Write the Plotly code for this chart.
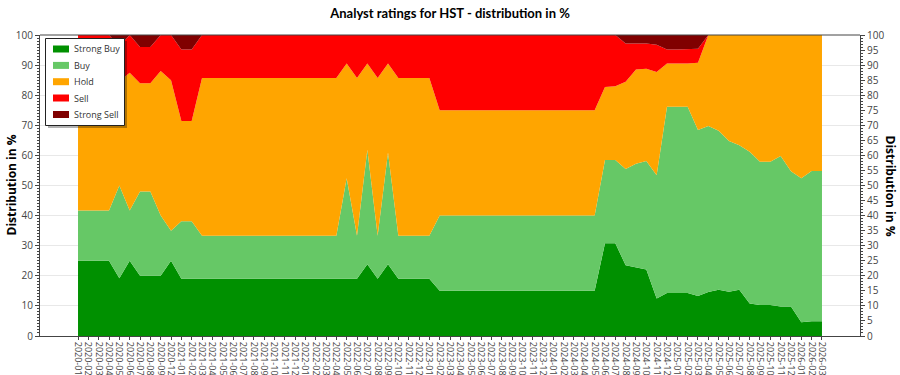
import plotly.graph_objects as go

months = (
    [f"2020-{m:02d}" for m in [1, 2, 3, 4, 5, 6, 7, 8, 9, 12]]
    + [f"{y}-{m:02d}" for y in [2021, 2022, 2023, 2024, 2025] for m in range(1, 13)]
    + ["2026-01", "2026-02", "2026-03"]
)

strong_buy = [25, 25, 25, 25, 19.2, 25, 20, 20, 20, 25,
              19, 19, 19, 19, 19, 19, 19, 19, 19, 19,
              19, 19, 19, 19, 19, 19, 19, 19, 23.8, 19,
              23.8, 19, 19, 19, 19, 15, 15, 15, 15, 15,
              15, 15, 15, 15, 15, 15, 15, 15, 15, 15,
              15, 30.8, 30.8, 23.5, 22.8, 22.1, 12.5, 14.3, 14.3, 14.3,
              13.3, 14.6, 15.4, 14.7, 15.4, 10.8, 10.3, 10.3, 9.8, 9.8,
              4.6, 4.9, 4.9]
buy = [16.7, 16.7, 16.7, 16.7, 30.8, 16.7, 28, 28, 20, 10,
       19.1, 19.1, 14.3, 14.3, 14.3, 14.3, 14.3, 14.3, 14.3, 14.3,
       14.3, 14.3, 14.3, 14.3, 14.3, 14.3, 33.4, 14.3, 38.1, 14.3,
       37.2, 14.3, 14.3, 14.3, 14.3, 25, 25, 25, 25, 25,
       25, 25, 25, 25, 25, 25, 25, 25, 25, 25,
       25, 27.7, 27.7, 32, 34.4, 36, 40.9, 61.9, 61.9, 61.9,
       55.1, 55.2, 52.8, 50.1, 48, 50.4, 47.6, 47.6, 50, 44.9,
       47.8, 49.9, 49.9]
hold = [41.6, 41.6, 41.6, 41.6, 34.6, 45.8, 36, 36, 48, 50,
        33.3, 33.3, 52.4, 52.4, 52.4, 52.4, 52.4, 52.4, 52.4, 52.4,
        52.4, 52.4, 52.4, 52.4, 52.4, 52.4, 38.1, 52.4, 28.6, 52.4,
        29.5, 52.4, 52.4, 52.4, 52.4, 35, 35, 35, 35, 35,
        35, 35, 35, 35, 35, 35, 35, 35, 35, 35,
        35, 24.2, 24.5, 29, 31.3, 30.7, 34.3, 14.3, 14.3, 14.3,
        22.4, 30.2, 31.8, 35.2, 36.6, 38.8, 42.1, 42.1, 40.2, 45.3,
        47.6, 45.2, 45.2]
sell = [16.7, 16.7, 16.7, 16.7, 11.6, 12.5, 12, 12, 12, 15,
        23.8, 23.8, 14.3, 14.3, 14.3, 14.3, 14.3, 14.3, 14.3, 14.3,
        14.3, 14.3, 14.3, 14.3, 14.3, 14.3, 9.5, 14.3, 9.5, 14.3,
        9.5, 14.3, 14.3, 14.3, 14.3, 25, 25, 25, 25, 25,
        25, 25, 25, 25, 25, 25, 25, 25, 25, 25,
        25, 17.3, 17, 12.7, 8.7, 8.4, 9.1, 4.7, 4.7, 4.7,
        4.6, 0, 0, 0, 0, 0, 0, 0, 0, 0,
        0, 0, 0]
strong_sell = [0, 0, 0, 0, 3.8, 0, 4, 4, 0, 0,
               4.8, 4.8, 0, 0, 0, 0, 0, 0, 0, 0,
               0, 0, 0, 0, 0, 0, 0, 0, 0, 0,
               0, 0, 0, 0, 0, 0, 0, 0, 0, 0,
               0, 0, 0, 0, 0, 0, 0, 0, 0, 0,
               0, 0, 0, 2.8, 2.8, 2.8, 3.2, 4.8, 4.8, 4.8,
               4.6, 0, 0, 0, 0, 0, 0, 0, 0, 0,
               0, 0, 0]

series_names = ["Strong Buy", "Buy", "Hold", "Sell", "Strong Sell"]
series_values = [strong_buy, buy, hold, sell, strong_sell]
series_colors = ["#009000", "#66c866", "#ffa500", "#ff0000", "#800000"]

fig = go.Figure()
for name, vals, col in zip(series_names, series_values, series_colors):
    fig.add_trace(go.Scatter(
        x=months, y=vals, name=name, mode="lines",
        stackgroup="one", groupnorm="percent",
        line=dict(width=0, color=col), fillcolor=col,
        hoverinfo="x+y+name", showlegend=False,
    ))

# invisible trace to activate the right axis
fig.add_trace(go.Scatter(x=[months[0]], y=[0], yaxis="y2", mode="markers",
                         marker=dict(opacity=0), showlegend=False, hoverinfo="skip"))

# ---- layout geometry (pixels) ----
W, H = 900, 375
ML, MR, MT, MB = 40, 40, 35, 39
PW, PH = W - ML - MR, H - MT - MB


def px(x):
    return (x - ML) / PW


def py(y):
    return (H - MB - y) / PH


n = len(months)
pad = 3.68
axis_font = dict(family="Open Sans, DejaVu Sans, sans-serif", size=10, color="#444444")

# custom legend box (styled like the reference: framed box with shadow)
shapes = [
    dict(type="rect", xref="paper", yref="paper", x0=px(48), x1=px(127), y0=py(128), y1=py(41),
         line=dict(width=0), fillcolor="rgba(0,0,0,0.3)", layer="above"),
    dict(type="rect", xref="paper", yref="paper", x0=px(45.5), x1=px(124.5), y0=py(125.5), y1=py(38.5),
         line=dict(color="#222222", width=1), fillcolor="white", layer="above"),
]
annotations = []
entry_y = [49, 65.4, 81.7, 98, 114.5]
for name, col, ey in zip(series_names, series_colors, entry_y):
    shapes.append(dict(type="rect", xref="paper", yref="paper",
                       x0=px(53), x1=px(69), y0=py(ey + 3.5), y1=py(ey - 3.5),
                       line=dict(width=0), fillcolor=col, layer="above"))
    annotations.append(dict(text=name, xref="paper", yref="paper", x=px(72), y=py(ey),
                            xanchor="left", yanchor="middle", showarrow=False,
                            font=dict(family="Open Sans, sans-serif", size=9, color="#333333")))

annotations += [
    dict(text="<b>Distribution in %</b>", textangle=-90, xref="paper", yref="paper",
         x=px(11), y=0.5, xanchor="center", yanchor="middle", showarrow=False,
         font=dict(family="Open Sans, sans-serif", size=12, color="#000000")),
    dict(text="<b>Distribution in %</b>", textangle=90, xref="paper", yref="paper",
         x=px(890), y=0.5, xanchor="center", yanchor="middle", showarrow=False,
         font=dict(family="Open Sans, sans-serif", size=12, color="#000000")),
]

shapes.append(dict(type="line", xref="paper", yref="paper", x0=0, x1=1, y0=1, y1=1,
                   line=dict(color="#444444", width=1)))

fig.update_layout(
    width=W, height=H,
    margin=dict(l=ML, r=MR, t=MT, b=MB, autoexpand=False),
    paper_bgcolor="white", plot_bgcolor="white",
    font=dict(family="Open Sans, DejaVu Sans, sans-serif", size=10, color="#333333"),
    title=dict(text="<b>Analyst ratings for HST - distribution in %</b>",
               x=0.5, xanchor="center", y=0.963, yanchor="middle",
               font=dict(family="Lato, Open Sans, sans-serif", size=13, color="#000000")),
    showlegend=False,
    xaxis=dict(type="category", range=[-pad, n - 1 + pad], tickangle=90,
               tickmode="array", tickvals=months, ticktext=months,
               tickfont=dict(size=9, color="#444444"), ticks="outside", ticklen=3,
               tickcolor="#444444", showgrid=False, showline=True,
               linecolor="#444444", linewidth=1, automargin=False, fixedrange=True),
    yaxis=dict(range=[0, 100], dtick=10, ticks="outside", ticklen=4,
               tickcolor="#444444", tickfont=axis_font, showgrid=True,
               gridcolor="#e8e8e8", gridwidth=1, showline=True, linecolor="#444444",
               linewidth=1, zeroline=False, automargin=False,
               minor=dict(dtick=1, ticks="outside", ticklen=2, tickcolor="#444444", showgrid=False)),
    yaxis2=dict(range=[0, 100], dtick=5, overlaying="y", side="right",
                ticks="outside", ticklen=4, tickcolor="#444444", tickfont=axis_font,
                showgrid=False, showline=True, linecolor="#444444", linewidth=1,
                zeroline=False, automargin=False,
                minor=dict(dtick=1, ticks="outside", ticklen=2, tickcolor="#444444")),
    annotations=annotations,
    shapes=shapes,
)

fig.write_html("out.html", config={"displayModeBar": False},
               post_script="document.body.style.margin='0';document.body.style.padding='0';")
